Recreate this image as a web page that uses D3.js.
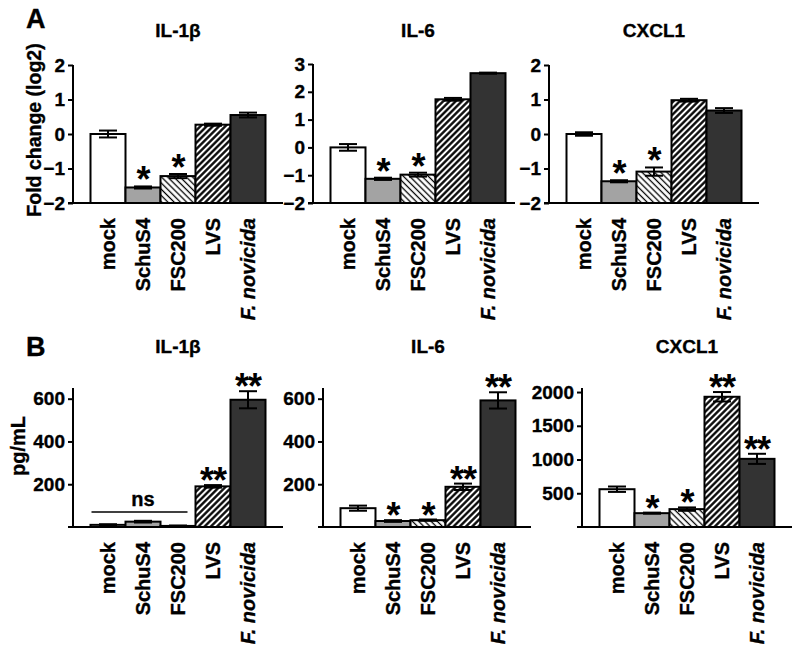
<!DOCTYPE html>
<html><head><meta charset="utf-8">
<script src="https://cdn.jsdelivr.net/npm/d3@7"></script>
<style>
html,body{margin:0;padding:0;background:#fff;}
svg text{font-family:"Liberation Sans",Arial,sans-serif;font-weight:bold;fill:#000;stroke:#000;stroke-width:0.35px;}
svg text.sig{stroke:none;}
</style></head>
<body>
<svg id="chart" width="800" height="657"></svg>
<script>
// ---------- data ----------
const categories = ["mock", "SchuS4", "FSC200", "LVS", "F. novicida"];

// Panel A: fold change (log2)
const foldIL1b = [0, -1.55, -1.22, 0.27, 0.55];
const foldIL1bErr = [0.10, 0.03, 0.06, 0.03, 0.07];
const foldIL6 = [0, -1.13, -0.98, 1.73, 2.67];
const foldIL6Err = [0.12, 0.04, 0.07, 0.05, 0.02];
const foldCXCL1 = [0, -1.37, -1.09, 0.98, 0.68];
const foldCXCL1Err = [0.05, 0.03, 0.12, 0.04, 0.07];

// Panel B: pg/mL
const pgIL1b = [10, 25, 5, 190, 595];
const pgIL1bErr = [3, 4, 2, 6, 40];
const pgIL6 = [88, 28, 32, 188, 592];
const pgIL6Err = [12, 4, 3, 15, 38];
const pgCXCL1 = [560, 205, 265, 1930, 1010];
const pgCXCL1Err = [40, 8, 25, 70, 75];

// significance marks
const sigA = ["", "*", "*", "", ""];
const sigB1 = ["", "", "", "**", "**"];
const sigB2 = ["", "*", "*", "**", "**"];
const sigB3 = ["", "*", "*", "**", "**"];

// axis ticks
const ticksA3 = [-2, -1, 0, 1, 2];
const ticksA6 = [-2, -1, 0, 1, 2, 3];
const ticksB600 = [200, 400, 600];
const ticksB2000 = [500, 1000, 1500, 2000];

const titles = ["IL-1\u03B2", "IL-6", "CXCL1"];

// ---------- drawing ----------
const svg = d3.select("#chart");
const defs = svg.append("defs");

function hatch(id, angle, size, lw) {
  const p = defs.append("pattern").attr("id", id)
    .attr("patternUnits", "userSpaceOnUse")
    .attr("width", size).attr("height", size)
    .attr("patternTransform", `rotate(${angle})`);
  p.append("rect").attr("width", size).attr("height", size).attr("fill", "#fff");
  p.append("line").attr("x1", size/2).attr("x2", size/2).attr("y1", 0).attr("y2", size)
    .attr("stroke", "#000").attr("stroke-width", lw);
}
hatch("hatchBack", -45, 4.4, 1.3);
hatch("hatchFwd", 45, 4.4, 2.3);

const fills = ["#ffffff", "#a3a3a3", "url(#hatchBack)", "url(#hatchFwd)", "#333333"];

function panel(opt) {
  const g = svg.append("g");
  const x = d3.scaleBand().domain(categories)
    .range([opt.x0, opt.x0 + 210]).paddingInner(0).paddingOuter(0.5);
  const y = d3.scaleLinear().domain(opt.domain).range([opt.yBottom, opt.yTop]);

  // bars
  g.selectAll("rect.bar").data(opt.values).join("rect")
    .attr("x", (d, i) => x(categories[i]))
    .attr("width", x.bandwidth())
    .attr("y", d => y(d))
    .attr("height", d => y(opt.domain[0]) - y(d))
    .attr("fill", (d, i) => fills[i])
    .attr("stroke", "#000").attr("stroke-width", 2);

  // error bars
  const capW = 9;
  opt.values.forEach((v, i) => {
    const cx = x(categories[i]) + x.bandwidth() / 2;
    const e = opt.errs[i];
    const lo = Math.max(v - e, opt.domain[0]);
    g.append("line").attr("x1", cx).attr("x2", cx).attr("y1", y(v + e)).attr("y2", y(lo))
      .attr("stroke", "#000").attr("stroke-width", 2);
    [v + e, lo].forEach(t => {
      g.append("line").attr("x1", cx - capW).attr("x2", cx + capW).attr("y1", y(t)).attr("y2", y(t))
        .attr("stroke", "#000").attr("stroke-width", 2);
    });
    if (opt.sig[i]) {
      g.append("text").attr("class", "sig").attr("x", cx).attr("y", y(v + e) + opt.sigDy)
        .attr("text-anchor", "middle").style("font-size", "36px").style("letter-spacing", "-1px")
        .text(opt.sig[i]);
    }
  });

  // y axis
  const ya = d3.axisLeft(y).tickValues(opt.ticks).tickSize(5).tickPadding(3).tickFormat(d3.format("d"));
  const yg = g.append("g").attr("transform", `translate(${opt.x0},0)`).call(ya);
  yg.selectAll(".tick line").attr("stroke-width", 2);
  yg.selectAll(".tick text").style("font-size", "19px")
    .style("font-family", "'Liberation Sans',Arial,sans-serif").style("font-weight", "bold");
  yg.select(".domain").attr("stroke-width", 2).attr("d", `M0,${opt.yTop}V${opt.yBottom}`);

  // x axis line
  g.append("line").attr("x1", opt.x0 - 5).attr("x2", opt.x0 + opt.xLen)
    .attr("y1", opt.yBottom).attr("y2", opt.yBottom)
    .attr("stroke", "#000").attr("stroke-width", 2);

  // x labels
  categories.forEach((c, i) => {
    const cx = x(c) + x.bandwidth() / 2;
    const t = g.append("text")
      .attr("transform", `translate(${cx},${opt.yBottom + 15}) rotate(-90)`)
      .attr("text-anchor", "end").attr("dy", "0.36em")
      .style("font-size", "20px");
    if (i === 4) t.style("font-style", "italic");
    t.text(c);
  });

  // title
  g.append("text").attr("x", opt.x0 + 105).attr("y", opt.titleY)
    .attr("text-anchor", "middle").style("font-size", "19px").text(opt.title);
  return { g, x, y };
}

const yTopA = 65, yBotA = 203;
panel({ x0: 73, xLen: 210, domain: [-2, 2], ticks: ticksA3, yTop: yTopA, yBottom: yBotA, values: foldIL1b, errs: foldIL1bErr, sig: sigA, sigDy: 6, title: titles[0], titleY: 37 });
panel({ x0: 313, xLen: 202, domain: [-2, 3], ticks: ticksA6, yTop: 64, yBottom: yBotA, values: foldIL6, errs: foldIL6Err, sig: sigA, sigDy: 6, title: titles[1], titleY: 37 });
panel({ x0: 549, xLen: 210, domain: [-2, 2], ticks: ticksA3, yTop: yTopA, yBottom: yBotA, values: foldCXCL1, errs: foldCXCL1Err, sig: sigA, sigDy: 6, title: titles[2], titleY: 37 });

const yTopB = 388, yBotB = 527;
const b1 = panel({ x0: 73, xLen: 210, domain: [0, 650], ticks: ticksB600, yTop: yTopB, yBottom: yBotB, values: pgIL1b, errs: pgIL1bErr, sig: sigB1, sigDy: 8, title: titles[0], titleY: 353 });
panel({ x0: 323, xLen: 208, domain: [0, 650], ticks: ticksB600, yTop: yTopB, yBottom: yBotB, values: pgIL6, errs: pgIL6Err, sig: sigB2, sigDy: 8, title: titles[1], titleY: 353 });
panel({ x0: 582, xLen: 210, domain: [0, 2060], ticks: ticksB2000, yTop: yTopB, yBottom: yBotB, values: pgCXCL1, errs: pgCXCL1Err, sig: sigB3, sigDy: 8, title: titles[2], titleY: 353 });

// ns bracket in B1
{
  const x = b1.x;
  const xa = x(categories[0]), xb = x(categories[2]) + x.bandwidth();
  b1.g.append("line").attr("x1", xa + 1).attr("x2", xb - 8).attr("y1", 512).attr("y2", 512)
    .attr("stroke", "#000").attr("stroke-width", 1.5);
  b1.g.append("text").attr("x", (xa + xb) / 2).attr("y", 506).attr("text-anchor", "middle")
    .style("font-size", "20px").text("ns");
}

// panel letters
svg.append("text").attr("x", 26).attr("y", 28).style("font-size", "27px").text("A");
svg.append("text").attr("x", 26).attr("y", 356).style("font-size", "27px").text("B");

// y axis titles
svg.append("text").attr("transform", "translate(41,130) rotate(-90)").attr("text-anchor", "middle")
  .style("font-size", "19.5px").text("Fold change (log2)");
svg.append("text").attr("transform", "translate(25,446) rotate(-90)").attr("text-anchor", "middle")
  .style("font-size", "20px").text("pg/mL");
</script>
</body></html>
